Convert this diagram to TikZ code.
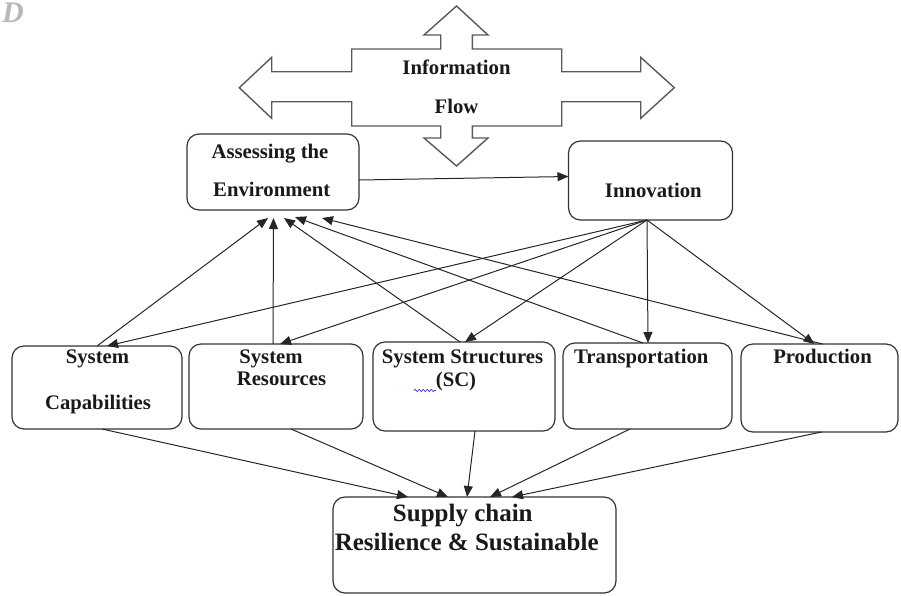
\documentclass[tikz,border=0pt]{standalone}
\usepackage{fontspec}
\setmainfont{Liberation Serif}
\usetikzlibrary{arrows.meta,decorations.pathmorphing}
\begin{document}
\begin{tikzpicture}[x=1pt,y=-1pt,
  box/.style={draw=black!80, line width=1.2pt, rounded corners=12pt, inner sep=0pt, outer sep=0pt},
  lbl/.style={font=\bfseries\fontsize{20.7}{24}\selectfont, anchor=base, inner sep=0pt, text=black!90},
  lblbig/.style={font=\bfseries\fontsize{25}{28}\selectfont, anchor=base, inner sep=0pt, text=black!90},
  arr/.style={-{Triangle[length=11pt,width=9pt]}, line width=1pt, draw=black!85}]
\useasboundingbox (0,0) rectangle (901,595);

% faint letter in corner
\node[font=\bfseries\itshape\fontsize{30}{30}\selectfont, text=black!28, anchor=base west, inner sep=0pt] (dmark) at (2,22) {D};

% four-way information arrow
\draw[draw=black!65, line width=1.4pt, line join=miter]
  (456.5,6) -- (488,35) -- (472.3,35) -- (472.3,49) -- (561.7,49) -- (561.7,71.7)
  -- (640.7,71.7) -- (640.7,57.3) -- (674.3,87.7) -- (640.7,118.3) -- (640.7,101.7)
  -- (561.7,101.7) -- (561.7,126) -- (472.3,126) -- (472.3,138) -- (488,138)
  -- (456.5,166) -- (424,138) -- (440.7,138) -- (440.7,126) -- (351.7,126)
  -- (351.7,101.7) -- (271.7,101.7) -- (271.7,118.3) -- (239.3,87.7) -- (271.7,57.3)
  -- (271.7,71.7) -- (351.7,71.7) -- (351.7,49) -- (440.7,49) -- (440.7,35)
  -- (424,35) -- cycle;
\node[lbl] (tInfo) at (456.5,74) {Information};
\node[lbl] (tFlow) at (456.5,113.3) {Flow};

% boxes
\node[box, minimum width=172pt, minimum height=76pt] (ass) at (273,172) {};
\node[box, minimum width=164pt, minimum height=79pt] (inn) at (650.5,180.5) {};
\node[box, minimum width=170pt, minimum height=83pt] (cap) at (97,387.5) {};
\node[box, minimum width=174pt, minimum height=85pt] (res) at (276,386.5) {};
\node[box, minimum width=182pt, minimum height=89pt] (str) at (464,386.5) {};
\node[box, minimum width=169pt, minimum height=86pt] (tra) at (647.5,386) {};
\node[box, minimum width=157pt, minimum height=88pt] (pro) at (819.5,388) {};
\node[box, minimum width=283pt, minimum height=96pt] (sup) at (474.5,545) {};

% texts
\node[lbl] (tAss1) at (270,158.7) {Assessing the};
\node[lbl] (tAss2) at (271.7,196.3) {Environment};
\node[lbl] (tInn) at (653.3,197.3) {Innovation};
\node[lbl] (tCap1) at (97.5,363.3) {System};
\node[lbl] (tCap2) at (98,409.3) {Capabilities};
\node[lbl] (tRes1) at (271,363.3) {System};
\node[lbl] (tRes2) at (281.5,385.7) {Resources};
\node[lbl] (tStr1) at (462.5,363.3) {System Structures};
\node[lbl] (tStr2) at (456,386.7) {(SC)};
\node[lbl] (tTra) at (641.3,363.3) {Transportation};
\node[lbl] (tPro) at (822.5,363.3) {Production};
\node[lblbig] (tSup1) at (462.8,521.7) {Supply chain};
\node[lblbig] (tSup2) at (466.7,550) {Resilience \& Sustainable};

% spell-check squiggle
\draw[blue!80, line width=0.7pt, decorate, decoration={snake, segment length=4pt, amplitude=1.2pt}]
  (414,390.5) -- (436,390.5);

% connectors to Assessing the Environment
\draw[arr] (cap.north) -- ([xshift=-5pt,yshift=-8pt]ass.south);
\draw[arr] ([xshift=-3pt]res.north) -- ([xshift=0.5pt,yshift=-8pt]ass.south);
\draw[arr] ([xshift=-4pt]str.north) -- ([xshift=11pt,yshift=-8pt]ass.south);
\draw[arr] ([xshift=-4.5pt]tra.north) -- ([xshift=22pt,yshift=-7pt]ass.south);
\draw[arr] ([xshift=3pt]pro.north) -- ([xshift=49pt,yshift=-8pt]ass.south);

% Assessing -> Innovation
\draw[arr] ([yshift=-8pt]ass.east) -- ([yshift=4pt]inn.west);

% Innovation -> middle row
\draw[arr] ([xshift=-3.5pt]inn.south) -- ([xshift=10pt]cap.north);
\draw[arr] ([xshift=-3.5pt]inn.south) -- ([xshift=4pt]res.north);
\draw[arr] ([xshift=-3.5pt]inn.south) -- ([xshift=1pt]str.north);
\draw[arr] ([xshift=-3.5pt]inn.south) -- ([xshift=0.5pt]tra.north);
\draw[arr] ([xshift=-3.5pt]inn.south) -- ([xshift=-5pt]pro.north);

% middle row -> Supply chain
\draw[arr] ([xshift=5pt]cap.south) -- ([xshift=-66.5pt]sup.north);
\draw[arr] ([xshift=15pt]res.south) -- ([xshift=-26.5pt]sup.north);
\draw[arr] ([xshift=11pt]str.south) -- ([xshift=-7.5pt]sup.north);
\draw[arr] ([xshift=-17.5pt]tra.south) -- ([xshift=15.5pt]sup.north);
\draw[arr] ([xshift=2pt]pro.south) -- ([xshift=37.5pt]sup.north);
\end{tikzpicture}
\end{document}
